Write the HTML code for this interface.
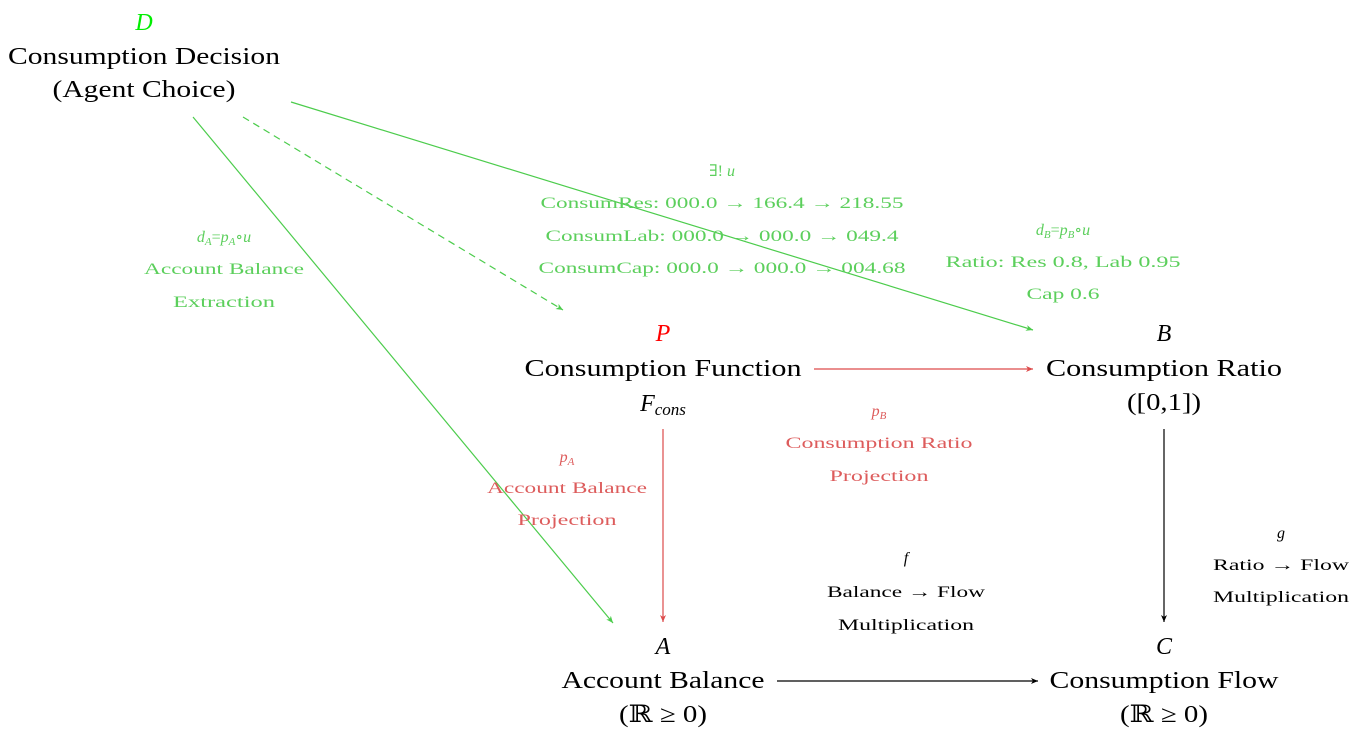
<!DOCTYPE html>
<html><head><meta charset="utf-8"><style>
html,body{margin:0;padding:0;background:#fff;}
svg text{font-family:"Liberation Serif","DejaVu Serif",serif;}
</style></head><body>
<svg width="1356" height="732" viewBox="0 0 1356 732" xmlns="http://www.w3.org/2000/svg">
<defs>
<marker id="ag" markerWidth="8" markerHeight="8" refX="7" refY="4" orient="auto" markerUnits="userSpaceOnUse"><path d="M0,1 L7,4 L0,7 L2,4 Z" fill="#4ccc4c"/></marker>
<marker id="ar" markerWidth="8" markerHeight="8" refX="7" refY="4" orient="auto" markerUnits="userSpaceOnUse"><path d="M0,1 L7,4 L0,7 L2,4 Z" fill="#dd4b4b"/></marker>
<marker id="ak" markerWidth="8" markerHeight="8" refX="7" refY="4" orient="auto" markerUnits="userSpaceOnUse"><path d="M0,1 L7,4 L0,7 L2,4 Z" fill="#000"/></marker>
</defs>
<g stroke-width="1.2" fill="none">
<line x1="193" y1="117" x2="613" y2="623" stroke="#4ccc4c" marker-end="url(#ag)"/>
<line x1="243" y1="117" x2="563" y2="310" stroke="#4ccc4c" stroke-dasharray="7,5" marker-end="url(#ag)"/>
<line x1="291" y1="102" x2="1033" y2="330" stroke="#4ccc4c" marker-end="url(#ag)"/>
<line x1="814" y1="369" x2="1033" y2="369" stroke="#dd4b4b" marker-end="url(#ar)"/>
<line x1="663" y1="429" x2="663" y2="622" stroke="#dd4b4b" marker-end="url(#ar)"/>
<line x1="1164" y1="429" x2="1164" y2="622" stroke="#000" marker-end="url(#ak)"/>
<line x1="777" y1="681" x2="1038" y2="681" stroke="#000" marker-end="url(#ak)"/>
</g>
<g font-size="24" text-anchor="middle" fill="#000" lengthAdjust="spacingAndGlyphs">
<text x="144" y="30" fill="#00ee00" font-style="italic">D</text>
<text x="144" y="64" textLength="272" lengthAdjust="spacingAndGlyphs">Consumption Decision</text>
<text x="144" y="97" textLength="183" lengthAdjust="spacingAndGlyphs">(Agent Choice)</text>
<text x="663" y="341" fill="#ff0000" font-style="italic">P</text>
<text x="663" y="376" textLength="277" lengthAdjust="spacingAndGlyphs">Consumption Function</text>
<text x="663" y="411"><tspan font-style="italic">F</tspan><tspan font-size="17" font-style="italic" dy="4">cons</tspan></text>
<text x="1164" y="341" font-style="italic">B</text>
<text x="1164" y="376" textLength="236" lengthAdjust="spacingAndGlyphs">Consumption Ratio</text>
<text x="1164" y="410" textLength="74" lengthAdjust="spacingAndGlyphs">([0,1])</text>
<text x="663" y="654" font-style="italic">A</text>
<text x="663" y="688" textLength="203" lengthAdjust="spacingAndGlyphs">Account Balance</text>
<text x="663" y="722" textLength="88" lengthAdjust="spacingAndGlyphs">(ℝ ≥ 0)</text>
<text x="1164" y="654" font-style="italic">C</text>
<text x="1164" y="688" textLength="229" lengthAdjust="spacingAndGlyphs">Consumption Flow</text>
<text x="1164" y="722" textLength="88" lengthAdjust="spacingAndGlyphs">(ℝ ≥ 0)</text>
</g>
<g font-size="16" text-anchor="middle" fill="#5ccf5c">
<text x="722" y="176"><tspan>∃! </tspan><tspan font-style="italic">u</tspan></text>
<text x="722" y="208" textLength="363" lengthAdjust="spacingAndGlyphs">ConsumRes: 000.0 → 166.4 → 218.55</text>
<text x="722" y="241" textLength="353" lengthAdjust="spacingAndGlyphs">ConsumLab: 000.0 → 000.0 → 049.4</text>
<text x="722" y="273" textLength="367" lengthAdjust="spacingAndGlyphs">ConsumCap: 000.0 → 000.0 → 004.68</text>
<text x="224" y="242" font-style="italic">d<tspan font-size="11" dy="3">A</tspan><tspan dy="-3" font-style="normal">=</tspan>p<tspan font-size="11" dy="3">A</tspan><tspan dy="-3" font-style="normal">∘</tspan>u</text>
<text x="224" y="274" textLength="160" lengthAdjust="spacingAndGlyphs">Account Balance</text>
<text x="224" y="307" textLength="102" lengthAdjust="spacingAndGlyphs">Extraction</text>
<text x="1063" y="235" font-style="italic">d<tspan font-size="11" dy="3">B</tspan><tspan dy="-3" font-style="normal">=</tspan>p<tspan font-size="11" dy="3">B</tspan><tspan dy="-3" font-style="normal">∘</tspan>u</text>
<text x="1063" y="267" textLength="235" lengthAdjust="spacingAndGlyphs">Ratio: Res 0.8, Lab 0.95</text>
<text x="1063" y="299" textLength="73" lengthAdjust="spacingAndGlyphs">Cap 0.6</text>
</g>
<g font-size="16" text-anchor="middle" fill="#dd5c5c">
<text x="879" y="416" font-style="italic">p<tspan font-size="11" dy="3">B</tspan></text>
<text x="879" y="448" textLength="187" lengthAdjust="spacingAndGlyphs">Consumption Ratio</text>
<text x="879" y="481" textLength="99" lengthAdjust="spacingAndGlyphs">Projection</text>
<text x="567" y="462" font-style="italic">p<tspan font-size="11" dy="3">A</tspan></text>
<text x="567" y="493" textLength="160" lengthAdjust="spacingAndGlyphs">Account Balance</text>
<text x="567" y="525" textLength="99" lengthAdjust="spacingAndGlyphs">Projection</text>
</g>
<g font-size="16" text-anchor="middle" fill="#000">
<text x="906" y="563" font-style="italic">f</text>
<text x="906" y="597" textLength="158" lengthAdjust="spacingAndGlyphs">Balance → Flow</text>
<text x="906" y="630" textLength="136" lengthAdjust="spacingAndGlyphs">Multiplication</text>
<text x="1281" y="538" font-style="italic">g</text>
<text x="1281" y="570" textLength="136" lengthAdjust="spacingAndGlyphs">Ratio → Flow</text>
<text x="1281" y="602" textLength="136" lengthAdjust="spacingAndGlyphs">Multiplication</text>
</g>
</svg>
</body></html>
